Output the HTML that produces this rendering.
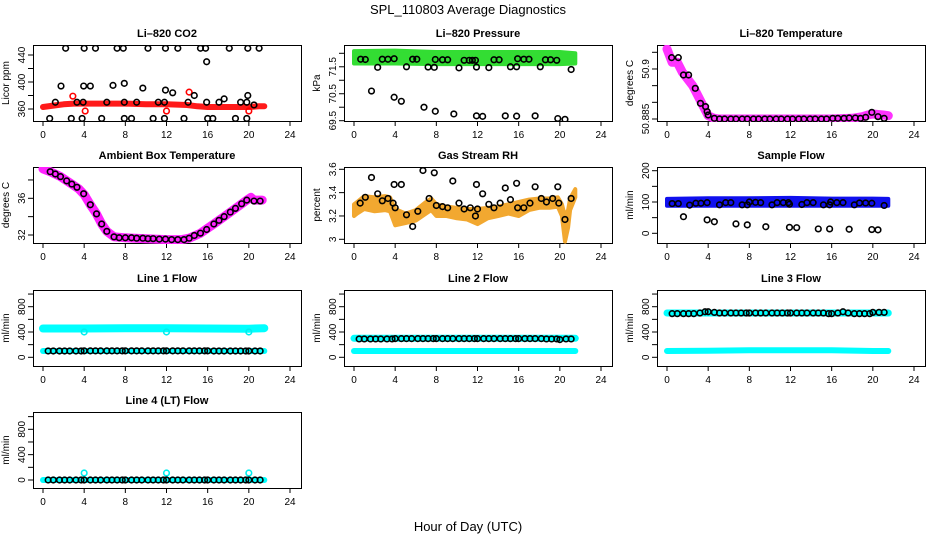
<!DOCTYPE html>
<html><head><meta charset="utf-8">
<style>
html,body{margin:0;padding:0;background:#fff;}
svg{display:block;font-family:"Liberation Sans",sans-serif;}
</style></head>
<body>
<svg id="chart" width="936" height="540" xmlns="http://www.w3.org/2000/svg">
<text x="468" y="14" text-anchor="middle" font-size="13">SPL_110803  Average Diagnostics</text>
<text x="468" y="531" text-anchor="middle" font-size="13">Hour of Day (UTC)</text>
</svg>
<script>
// ---- data ----
const xTicks = [0,4,8,12,16,20,24];
// CO2
const co2BandH = [0,1,2,3,4,6,8,10,12,14,15,16,18,20,21,21.5];
const co2BandV = [363,365,367,368,368,368,368,367,367,366,364,363,363,363,364,364];
const co2PtsH = [2.2,4.0,5.1,7.2,7.8,10.2,11.9,13.1,15.3,15.8,18.1,19.9,21.0, 0.65,2.75,3.8,5.7,7.9,8.6,10.7,11.8,13.7,16.0,16.5,18.7,19.8, 1.2,3.3,3.9,6.2,7.9,9.1,11.2,11.8,14.1,15.9,17.1,19.2,19.8,20.5, 1.75,3.95,4.6,6.8,7.9,9.7,11.9,12.6,14.7,17.6,19.9,15.9];
const co2PtsV = [450,450,450,450,450,450,450,450,450,450,450,450,450, 346,346,346,346,346,346,346,346,346,346,346,346,346, 370,370,370,370,370,370,370,370,370,370,370,370,370,366, 394,394,394,395,398,391,388,384,380,375,380,430];
const co2OutH = [2.9,4.1,12.0,14.2,20.0];
const co2OutV = [379,357,357,385,357];
// Pressure
const prBandH = [0,4,8,12,16,20,21.5];
const prBandLo = [71.62,71.62,71.6,71.6,71.6,71.6,71.62];
const prBandHi = [72.08,72.1,72.05,72.05,72.05,72.05,72.0];
const prPtsH = [0.65,1.1,2.75,3.3,3.9,5.7,6.1,7.9,8.6,9.1,10.7,11.2,11.5,11.8,13.6,14.1,15.9,16.5,17.0,18.6,19.1,19.7, 2.3,5.1,7.2,7.8,10.2,11.9,13.1,15.2,15.8,18.1,21.1, 1.7,3.9,4.6,6.8,7.9,9.7,11.9,12.5,14.7,15.8,17.6,19.8,20.5];
const prPtsV = [71.78,71.77,71.78,71.78,71.8,71.78,71.78,71.77,71.76,71.76,71.74,71.74,71.74,71.74,71.76,71.76,71.8,71.78,71.78,71.76,71.76,71.74, 71.48,71.5,71.49,71.48,71.46,71.49,71.47,71.5,71.5,71.5,71.4, 70.6,70.37,70.22,70.0,69.85,69.75,69.68,69.66,69.68,69.67,69.68,69.58,69.55];
// Li-820 temperature
const ltBandH = [0,0.5,1,1.5,2,2.5,3,3.5,4,4.5,5,8,12,16,18,19,19.5,20,21,21.5];
const ltBandV = [50.906,50.902,50.902,50.899,50.897,50.895,50.892,50.889,50.886,50.8853,50.885,50.885,50.885,50.885,50.8852,50.8857,50.8862,50.8865,50.8862,50.886];
const ltPtsH = [0.45,1.1,1.6,2.1,2.75,3.25,3.75,3.9,4.0,4.6,5.1,5.6,6.2,6.7,7.3,7.8,8.4,8.9,9.5,10.0,10.6,11.1,11.7,12.2,12.8,13.3,13.9,14.4,15.0,15.5,16.1,16.6,17.2,17.7,18.3,18.8,19.3,19.9,20.5,21.1];
const ltPtsV = [50.9034,50.9034,50.8982,50.8982,50.8942,50.8897,50.8887,50.8872,50.8862,50.8852,50.885,50.885,50.885,50.885,50.885,50.885,50.885,50.885,50.885,50.885,50.885,50.885,50.885,50.885,50.885,50.885,50.885,50.885,50.885,50.885,50.8852,50.8852,50.8852,50.8853,50.8853,50.8852,50.8855,50.887,50.8857,50.8852];
// Ambient temperature
const abPtsH = [0.7,1.2,1.7,2.3,2.8,3.3,3.95,4.6,5.2,5.7,6.2,6.9,7.4,8.0,8.6,9.1,9.7,10.2,10.7,11.3,11.9,12.5,13.1,13.7,14.2,14.7,15.3,15.9,16.6,17.1,17.6,18.2,18.7,19.3,19.8,20.5,21.1];
const abPtsV = [38.9,38.65,38.36,37.9,37.55,37.2,36.5,35.3,34.3,33.2,32.4,31.8,31.7,31.7,31.7,31.65,31.65,31.6,31.6,31.55,31.55,31.5,31.5,31.5,31.65,31.95,32.2,32.6,33.2,33.6,34.0,34.5,34.9,35.4,35.8,35.7,35.7];
const abBandH = [0,0.7,1.7,2.8,3.5,4.0,4.6,5.2,5.7,6.2,6.9,8,10,12,13.5,14.2,15.3,16.6,17.6,18.7,19.8,20.2,20.5,21.3];
const abBandV = [39.2,38.9,38.36,37.55,37.0,36.4,35.3,34.3,33.2,32.4,31.8,31.7,31.6,31.5,31.5,31.65,32.2,33.2,34.0,34.9,35.8,36.1,35.8,35.8];
// Gas stream RH
const rhBandH = [0,0.3,1,2,3,3.5,4,5,6,7,7.5,8,9,10,11,12,13,14,15,16,17,18,19,19.8,20.2,20.5,20.8,21,21.5];
const rhBandLo = [3.2,3.22,3.26,3.24,3.25,3.24,3.12,3.14,3.16,3.22,3.25,3.2,3.2,3.18,3.17,3.13,3.18,3.2,3.22,3.2,3.25,3.27,3.27,3.28,3.2,2.98,3.1,3.25,3.36];
const rhBandHi = [3.3,3.32,3.37,3.36,3.37,3.36,3.26,3.22,3.25,3.32,3.35,3.3,3.28,3.27,3.26,3.26,3.27,3.28,3.3,3.32,3.34,3.35,3.35,3.36,3.3,3.2,3.25,3.35,3.43];
const rhPtsH = [0.6,1.1,1.7,2.3,2.75,3.3,3.8,3.9,4.0,4.6,5.1,5.7,6.2,6.7,7.3,7.8,8.0,8.6,9.1,9.6,10.2,10.7,11.3,11.8,11.9,12.0,12.5,13.1,13.6,14.2,14.7,15.2,15.8,15.9,16.5,17.1,17.6,18.2,18.7,19.3,19.8,19.9,20.5,21.1];
const rhPtsV = [3.31,3.36,3.53,3.39,3.33,3.35,3.31,3.47,3.27,3.47,3.21,3.11,3.24,3.59,3.35,3.57,3.29,3.28,3.27,3.5,3.31,3.26,3.27,3.2,3.47,3.26,3.39,3.3,3.27,3.31,3.44,3.34,3.48,3.27,3.27,3.31,3.45,3.35,3.32,3.35,3.45,3.31,3.17,3.35];
// Sample flow
const sfBandH = [0,4,8,12,16,20,21.5];
const sfBandLo = [88,88,88,88,88,88,88];
const sfBandHi = [110,112,112,113,111,111,110];
const sfPtsH = [0.5,1.1,2.2,2.8,3.3,3.9,5.1,5.7,6.2,7.3,7.8,8.0,8.6,9.1,10.2,10.7,11.3,11.8,11.9,13.1,13.6,14.2,15.2,15.8,15.9,16.5,17.1,18.2,18.7,19.3,19.9,21.1, 1.6,3.9,4.6,6.7,7.8,9.6,11.9,12.6,14.7,15.8,17.7,19.9,20.5];
const sfPtsV = [95,95,90,96,96,98,91,98,98,91,91,100,99,98,91,98,98,98,93,92,98,98,91,91,100,98,98,91,97,97,96,89, 53,43,37,30,27,21,19,18,14,14,13,12,11];
// Line flows (shared marker hours)
const lfH = [0.5,1.0,1.6,2.1,2.6,3.2,3.7,4.0,4.6,5.1,5.6,6.2,6.7,7.2,7.7,8.0,8.6,9.1,9.6,10.2,10.7,11.2,11.7,12.0,12.6,13.1,13.6,14.2,14.7,15.2,15.7,16.0,16.6,17.1,17.6,18.2,18.7,19.2,19.7,20.0,20.6,21.1];
const l1Black = [100,100,100,100,100,100,100,102,102,102,102,102,102,102,102,102,102,102,102,102,102,102,102,102,102,102,102,102,102,102,102,102,100,100,100,100,100,100,100,100,100,100];
const l2Black = [290,290,290,290,290,290,290,295,295,295,295,295,295,295,295,295,295,295,295,295,295,295,295,295,295,295,295,295,295,295,295,295,295,295,295,295,290,290,290,280,290,290];
const l3Black = [690,690,690,690,690,700,720,720,710,700,700,700,700,700,700,700,700,700,700,700,700,700,700,700,700,700,700,700,700,700,690,690,700,720,700,690,690,690,690,710,710,710];
const l4Black = [0,0,0,0,0,0,0,0,0,0,0,0,0,0,0,0,0,0,0,0,0,0,0,0,0,0,0,0,0,0,0,0,0,0,0,0,0,0,0,0,0,0];
const flowBandH = [0,4,8,12,16,20,21.5];
const l1HighV = [455,455,460,458,456,452,460];
const l1LowV = [100,100,100,100,100,100,100];
const l2HighV = [300,300,300,300,300,300,300];
const l2LowV = [100,100,100,100,100,100,100];
const l3HighV = [700,700,700,700,700,700,700];
const l3LowV = [100,105,110,110,110,100,100];
const l4V = [0,0,0,0,0,0,0];
const flowOutH = [4,12,20];
const l1OutV = [400,400,400];
const l4OutV = [110,110,110];

// ---- drawing ----
const svg = document.getElementById('chart');
const NS = 'http://www.w3.org/2000/svg';
function mk(tag, attrs, parent){
  const e = document.createElementNS(NS, tag);
  for (const k in attrs) e.setAttribute(k, attrs[k]);
  (parent||svg).appendChild(e);
  return e;
}
const colX = [33, 344, 657];
const rowY = [45, 167, 290, 412];
const W = 268, Hh = 76;

function panel(name, col, row, title, ylab, yA, yB, ticks, labels){
  const x0 = colX[col], y0 = rowY[row];
  const g = mk('g', {});
  
  
  const xs = h => x0 + 10 + h * (W - 21) / 24;
  const ys = v => y0 + yA[1] + (v - yA[0]) * (yB[1] - yA[1]) / (yB[0] - yA[0]);
  const t = mk('text', {x: x0 + W/2, y: y0 - 8, 'text-anchor':'middle', 'font-size':'11', 'font-weight':'bold'}, g);
  t.textContent = title;
  
  
  const yl = mk('text', {transform:`translate(${x0-24},${y0+Hh/2}) rotate(-90)`, 'text-anchor':'middle', 'font-size':'10'}, g);
  yl.textContent = ylab;
  
  
  const box = mk('rect', {x:x0+0.5, y:y0+0.5, width:W, height:Hh, fill:'none', stroke:'#000', 'stroke-width':1}, g);
  
  
  xTicks.forEach(v => {
    mk('line', {x1:xs(v), x2:xs(v), y1:y0+Hh, y2:y0+Hh+5, stroke:'#000'}, g);
    const tl = mk('text', {x:xs(v), y:y0+Hh+17, 'text-anchor':'middle', 'font-size':'10'}, g);
    tl.textContent = v;
    
    
  });
  ticks.forEach(v => {
    mk('line', {x1:x0-5, x2:x0, y1:ys(v), y2:ys(v), stroke:'#000'}, g);
  });
  labels.forEach(v => {
    const tl = mk('text', {transform:`translate(${x0-8},${ys(v)}) rotate(-90)`, 'text-anchor':'middle', 'font-size':'10'}, g);
    tl.textContent = v;
    
    
  });
  const clip = 'clip-' + name;
  const cp = mk('clipPath', {id: clip}, g);
  mk('rect', {x:x0, y:y0, width:W+1, height:Hh+1}, cp);
  const pg = mk('g', {'clip-path':`url(#${clip})`}, g);
  return {g: pg, xs, ys};
}
function line(p, H, V, color, w, nm){
  const d = H.map((h,i) => (i?'L':'M') + p.xs(h).toFixed(1) + ' ' + p.ys(V[i]).toFixed(1)).join(' ');
  const e = mk('path', {d, fill:'none', stroke:color, 'stroke-width':w, 'stroke-linecap':'round', 'stroke-linejoin':'round'}, p.g);
  
  
}
function band(p, H, Lo, Hi, color, nm){
  let d = H.map((h,i) => (i?'L':'M') + p.xs(h).toFixed(1) + ' ' + p.ys(Hi[i]).toFixed(1)).join(' ');
  for (let i = H.length-1; i >= 0; i--) d += ' L' + p.xs(H[i]).toFixed(1) + ' ' + p.ys(Lo[i]).toFixed(1);
  d += ' Z';
  const e = mk('path', {d, fill:color, stroke:color, 'stroke-width':4, 'stroke-linejoin':'round'}, p.g);
  
  
}
function pts(p, H, V, color, nm){
  H.forEach((h,i) => {
    const c = mk('circle', {cx:p.xs(h), cy:p.ys(V[i]), r:2.8, fill:'none', stroke:color, 'stroke-width':1.6}, p.g);
    
    
  });
}

// CO2
let p = panel('co2', 0, 0, 'Li\u2013820 CO2', 'Licor ppm', [440,10], [360,64], [360,380,400,420,440], [360,400,440]);
line(p, co2BandH, co2BandV, '#ff1a1a', 6, 'co2-band');
pts(p, co2OutH, co2OutV, '#ff0000', 'co2-red-point');
pts(p, co2PtsH, co2PtsV, '#000', 'co2-point');
// Pressure
p = panel('pressure', 1, 0, 'Li\u2013820 Pressure', 'kPa', [72,8.3], [69.5,75.7], [69.5,70,70.5,71,71.5,72], [69.5,70.5,71.5]);
band(p, prBandH, prBandLo, prBandHi, '#33dd33', 'pressure-band');
pts(p, prPtsH, prPtsV, '#000', 'pressure-point');
// Li temperature
p = panel('li-temp', 2, 0, 'Li\u2013820 Temperature', 'degrees C', [50.905,7.3], [50.885,74], [50.885,50.89,50.895,50.9,50.905], [50.885,50.9]);
line(p, ltBandH, ltBandV, '#ff33ff', 9, 'li-temp-band');
pts(p, ltPtsH, ltPtsV, '#000', 'li-temp-point');
// Ambient
p = panel('ambient', 0, 1, 'Ambient Box Temperature', 'degrees C', [36,31.3], [32,68], [32,34,36,38], [32,36]);
line(p, abBandH, abBandV, '#ff22ff', 9, 'ambient-band');
pts(p, abPtsH, abPtsV, '#000', 'ambient-point');
// RH
p = panel('rh', 1, 1, 'Gas Stream RH', 'percent', [3.6,2.3], [3.0,72.3], [3.0,3.2,3.4,3.6], [3.0,3.2,3.4,3.6]);
band(p, rhBandH, rhBandLo, rhBandHi, '#f2a830', 'rh-band');
pts(p, rhPtsH, rhPtsV, '#000', 'rh-point');
// Sample flow
p = panel('sample-flow', 2, 1, 'Sample Flow', 'ml/min', [200,3.7], [0,66.3], [0,50,100,150,200], [0,100,200]);
band(p, sfBandH, sfBandLo, sfBandHi, '#1010ee', 'sample-flow-band');
pts(p, sfPtsH, sfPtsV, '#000', 'sample-flow-point');
// Line flows
const fTicks = [0,200,400,600,800,1000], fLabels = [0,400,800];
p = panel('line1-flow', 0, 2, 'Line 1 Flow', 'ml/min', [0,67.3], [800,16.7], fTicks, fLabels);
line(p, flowBandH, l1HighV, '#00ffff', 8, 'line1-high-band');
line(p, flowBandH, l1LowV, '#00ffff', 6, 'line1-low-band');
pts(p, flowOutH, l1OutV, '#00eeee', 'line1-cyan-point');
pts(p, lfH, l1Black, '#000', 'line1-point');
p = panel('line2-flow', 1, 2, 'Line 2 Flow', 'ml/min', [0,67.3], [800,16.7], fTicks, fLabels);
line(p, flowBandH, l2HighV, '#00ffff', 7, 'line2-high-band');
line(p, flowBandH, l2LowV, '#00ffff', 6, 'line2-low-band');
pts(p, lfH, l2Black, '#000', 'line2-point');
p = panel('line3-flow', 2, 2, 'Line 3 Flow', 'ml/min', [0,67.3], [800,16.7], fTicks, fLabels);
line(p, flowBandH, l3HighV, '#00ffff', 7, 'line3-high-band');
line(p, flowBandH, l3LowV, '#00ffff', 6, 'line3-low-band');
pts(p, lfH, l3Black, '#000', 'line3-point');
p = panel('line4-flow', 0, 3, 'Line 4 (LT) Flow', 'ml/min', [0,68], [800,17.3], fTicks, fLabels);
line(p, flowBandH, l4V, '#00ffff', 6, 'line4-band');
pts(p, flowOutH, l4OutV, '#00eeee', 'line4-cyan-point');
pts(p, lfH, l4Black, '#000', 'line4-point');
</script>
</body></html>
